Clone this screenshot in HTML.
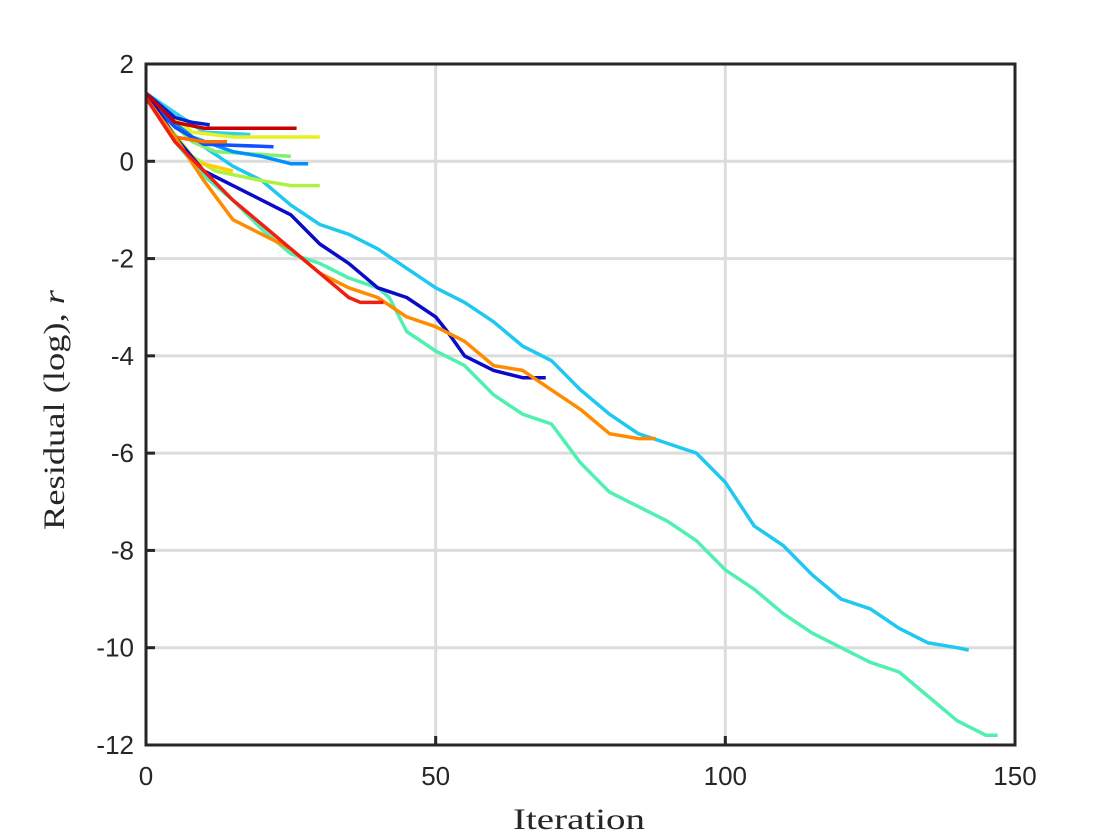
<!DOCTYPE html>
<html><head><meta charset="utf-8"><style>
body{margin:0;background:#fff;}
svg{display:block;font-family:"Liberation Sans",sans-serif;}
</style></head><body>
<svg id="chart" width="1120" height="840">
<rect width="1120" height="840" fill="#fff"/>
<g id="grid"></g><g id="series"></g>
<rect x="146" y="64" width="869" height="681" fill="none" stroke="#262626" stroke-width="3"/>
<g id="ticks"></g>
<text x="579" y="829" text-anchor="middle" font-family="Liberation Serif,serif" font-size="30" textLength="132" lengthAdjust="spacingAndGlyphs" fill="#262626">Iteration</text>
<text transform="translate(64,410) rotate(-90)" text-anchor="middle" font-family="Liberation Serif,serif" font-size="30" textLength="240" lengthAdjust="spacingAndGlyphs" fill="#262626">Residual (log), <tspan font-style="italic">r</tspan></text>
</svg>
<script>
const xTicks=[0,50,100,150];
const yTicks=[2,0,-2,-4,-6,-8,-10,-12];
const seriesColors=["#1ec8f0","#50f0b0","#0a0ac8","#ff8c00","#f02010","#c80000","#e8f020","#1050ff","#80f070","#0090ff","#b0f040","#0020d0","#30d0f0","#ff7000","#ffd000"];
const seriesX=[
[0,5,10,15,20,25,30,35,40,45,50,55,60,65,70,75,80,85,90,95,100,105,110,115,120,125,130,135,140,142],
[0,5,10,15,20,25,30,35,40,42,45,50,55,60,65,70,75,80,85,90,95,100,105,110,115,120,125,130,135,140,145,147],
[0,5,10,15,20,25,30,35,40,45,50,52,55,60,65,69],
[0,5,10,15,20,25,30,35,40,45,50,55,60,65,70,75,80,85,88],
[0,5,10,15,20,25,30,35,37,41],
[0,5,10,26],[0,8,15,30],[0,5,10,22],[0,8,12,25],[0,8,15,20,25,28],[0,8,12,20,25,30],[0,5,8,11],[0,10,18],[0,5,10,14],[0,8,15]
];
const seriesY=[
[1.4,0.8,0.3,-0.1,-0.4,-0.9,-1.3,-1.5,-1.8,-2.2,-2.6,-2.9,-3.3,-3.8,-4.1,-4.7,-5.2,-5.6,-5.8,-6.0,-6.6,-7.5,-7.9,-8.5,-9.0,-9.2,-9.6,-9.9,-10.0,-10.05],
[1.4,0.4,-0.3,-0.8,-1.4,-1.9,-2.1,-2.4,-2.6,-2.8,-3.5,-3.9,-4.2,-4.8,-5.2,-5.4,-6.2,-6.8,-7.1,-7.4,-7.8,-8.4,-8.8,-9.3,-9.7,-10.0,-10.3,-10.5,-11.0,-11.5,-11.8,-11.8],
[1.4,0.5,-0.2,-0.5,-0.8,-1.1,-1.7,-2.1,-2.6,-2.8,-3.2,-3.5,-4.0,-4.3,-4.45,-4.45],
[1.3,0.5,-0.4,-1.2,-1.5,-1.8,-2.3,-2.6,-2.8,-3.2,-3.4,-3.7,-4.2,-4.3,-4.7,-5.1,-5.6,-5.7,-5.7],
[1.3,0.4,-0.2,-0.8,-1.3,-1.8,-2.3,-2.8,-2.9,-2.9],
[1.4,0.8,0.68,0.68],[1.3,0.6,0.5,0.5],[1.3,0.7,0.35,0.3],[1.3,0.4,0.2,0.1],[1.3,0.5,0.2,0.1,-0.05,-0.05],[1.3,0.1,-0.2,-0.4,-0.5,-0.5],[1.4,0.9,0.8,0.75],[1.4,0.6,0.55],[1.3,0.5,0.4,0.4],[1.3,0.0,-0.2]
];
const drawOrder=[1,0,8,9,10,12,14,6,7,11,13,2,3,4,5];
const X=v=>146+v*869/150, Y=v=>64+(2-v)*681/14;
const NS="http://www.w3.org/2000/svg";
const grid=document.getElementById('grid'),ticks=document.getElementById('ticks'),ser=document.getElementById('series');
function mk(tag,attrs,parent){const e=document.createElementNS(NS,tag);for(const k in attrs)e.setAttribute(k,attrs[k]);parent.appendChild(e);return e;}
xTicks.forEach(t=>{
 if(t>0&&t<150){const g=mk('line',{x1:X(t),x2:X(t),y1:64,y2:745,stroke:"#dcdcdc","stroke-width":3},grid);
 
 }
 mk('line',{x1:X(t),x2:X(t),y1:745,y2:736,stroke:"#262626","stroke-width":3},ticks);
 const tx=mk('text',{x:X(t),y:785,"text-anchor":"middle","font-size":26,fill:"#262626"},ticks);tx.textContent=t;
 
 
});
yTicks.forEach(t=>{
 if(t<2&&t>-12){const g=mk('line',{x1:146,x2:1015,y1:Y(t),y2:Y(t),stroke:"#dcdcdc","stroke-width":3},grid);
 
 }
 mk('line',{x1:146,x2:155,y1:Y(t),y2:Y(t),stroke:"#262626","stroke-width":3},ticks);
 const tx=mk('text',{x:134,y:Y(t)+9,"text-anchor":"end","font-size":26,fill:"#262626"},ticks);tx.textContent=t;
 
 
});
drawOrder.forEach(i=>{
 const pts=seriesX[i].map((x,j)=>X(x).toFixed(1)+","+Y(seriesY[i][j]).toFixed(1)).join(" ");
 const p=mk('polyline',{points:pts,fill:"none",stroke:seriesColors[i],"stroke-width":3.5,"stroke-linejoin":"round"},ser);
 
 
});
</script>
</body></html>
